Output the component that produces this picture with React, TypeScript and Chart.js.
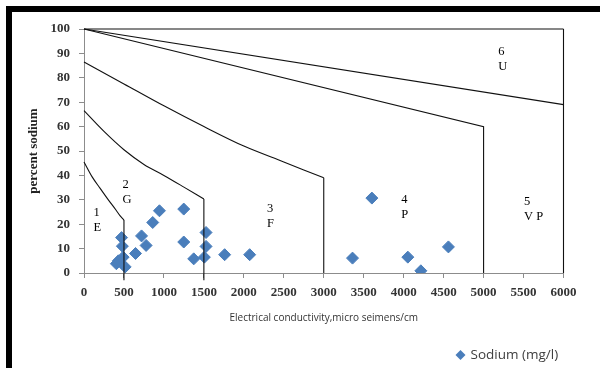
import React, { useEffect, useRef } from 'react';
import { Chart, registerables } from 'chart.js';

Chart.register(...registerables);

// Scatter samples: electrical conductivity (µS/cm) and percent sodium
const sodiumEC = [470, 480, 490, 430, 405, 515, 645, 720, 777, 860, 944, 1248, 1248, 1373, 1506, 1527, 1527, 1760, 2073, 3360, 3602, 4052, 4215, 4560];
const sodiumPct = [14.5, 11, 6.5, 5, 3.8, 2.5, 8, 15.2, 11.3, 20.7, 25.5, 26.2, 12.7, 5.8, 6.5, 16.6, 10.9, 7.5, 7.5, 6.1, 30.7, 6.5, 0.9, 10.7];

// Wilcox boundary lines
const frameTopEC = [0, 6000];
const frameTopPct = [100, 100];
const frameRightEC = [6000, 6000];
const frameRightPct = [100, 0];

const bound6EC = [0, 6000];
const bound6Pct = [100, 69];

const bound5EC = [0, 5000, 5000];
const bound5Pct = [100, 60, 0];

const bound4EC = [0, 500, 1000, 1500, 2000, 2500, 3000];
const bound4Pct = [86.5, 77.5, 68.5, 60, 52, 45.5, 39];
const drop4EC = [3000, 3000];
const drop4Pct = [39, 0];

const bound3EC = [0, 250, 500, 750, 1000, 1250, 1500];
const bound3Pct = [66.5, 58, 50.5, 44.5, 40, 35.2, 30.3];
const drop3EC = [1500, 1500];
const drop3Pct = [30.3, -3];

const bound2EC = [0, 100, 200, 300, 400, 450, 500];
const bound2Pct = [45.5, 39.5, 34.8, 30.2, 25.8, 23.5, 21.7];
const drop2EC = [500, 500];
const drop2Pct = [21.7, -3];

// Zone labels
const zoneNumbers = ['1', '2', '3', '4', '5', '6'];
const zoneCodes = ['E', 'G', 'F', 'P', 'V P', 'U'];
const zoneLabelEC = [119, 481, 2290, 3969, 5506, 5185];
const zoneLabelPct = [24.7, 36.1, 26.3, 30, 29.3, 90.8];

const xTitle = 'Electrical conductivity,micro seimens/cm';
const yTitle = 'percent sodium';
const seriesLabel = 'Sodium (mg/l)';

const toPoints = (xs: number[], ys: number[]) => xs.map((x, i) => ({ x, y: ys[i] }));

const lineDs = (xs: number[], ys: number[], curved = false) => ({
  type: 'scatter' as const,
  data: toPoints(xs, ys),
  showLine: true,
  borderColor: '#111',
  backgroundColor: '#111',
  borderWidth: 1.1,
  pointRadius: 0,
  pointHoverRadius: 0,
  tension: curved ? 0.4 : 0,
  cubicInterpolationMode: curved ? ('monotone' as const) : ('default' as const),
  clip: false as const,
  label: '',
});

const BLUE = '#4A7EBB';

const annotationsPlugin = {
  id: 'zoneAnnotations',
  afterDatasetsDraw(chart: any) {
    const { ctx, scales, chartArea } = chart;
    const x = scales.x;
    const y = scales.y;
    ctx.save();
    ctx.font = '12.5px "Liberation Serif", serif';
    ctx.fillStyle = '#000';
    ctx.textAlign = 'left';
    ctx.textBaseline = 'middle';
    zoneNumbers.forEach((n, i) => {
      const px = x.getPixelForValue(zoneLabelEC[i]);
      const py = y.getPixelForValue(zoneLabelPct[i]);
      ctx.fillText(n, px, py);
      ctx.fillText(zoneCodes[i], px, py + 15);
    });
    // legend
    const lx = chartArea.right - 103;
    const ly = chartArea.bottom + 82;
    const r = 5;
    ctx.fillStyle = BLUE;
    ctx.beginPath();
    ctx.moveTo(lx, ly - r);
    ctx.lineTo(lx + r, ly);
    ctx.lineTo(lx, ly + r);
    ctx.lineTo(lx - r, ly);
    ctx.closePath();
    ctx.fill();
    ctx.fillStyle = '#404040';
    ctx.font = '13.5px "Open Sans", sans-serif';
    ctx.textAlign = 'left';
    ctx.textBaseline = 'middle';
    ctx.fillText(seriesLabel, lx + 10, ly);
    ctx.restore();
  },
};

export default function App() {
  const canvasRef = useRef<HTMLCanvasElement | null>(null);

  useEffect(() => {
    document.body.style.margin = '0';
    const canvas = canvasRef.current;
    if (!canvas) return;
    const tickFont = { family: '"Liberation Serif", serif', weight: 'bold' as const, size: 13 };
    const chart = new Chart(canvas, {
      type: 'scatter',
      data: {
        datasets: [
          lineDs(frameTopEC, frameTopPct),
          lineDs(frameRightEC, frameRightPct),
          lineDs(bound6EC, bound6Pct),
          lineDs(bound5EC, bound5Pct),
          lineDs(bound4EC, bound4Pct, true),
          lineDs(drop4EC, drop4Pct),
          lineDs(bound3EC, bound3Pct, true),
          lineDs(drop3EC, drop3Pct),
          lineDs(bound2EC, bound2Pct, true),
          lineDs(drop2EC, drop2Pct),
          {
            type: 'scatter',
            label: seriesLabel,
            data: toPoints(sodiumEC, sodiumPct),
            pointStyle: 'rectRot',
            pointRadius: 6,
            pointBackgroundColor: BLUE,
            pointBorderColor: BLUE,
            pointBorderWidth: 1,
            showLine: false,
          } as any,
        ],
      },
      options: {
        animation: false,
        responsive: false,
        maintainAspectRatio: false,
        events: [],
        layout: { padding: { top: 29, right: 36.5, left: 0, bottom: 0 } },
        plugins: {
          legend: { display: false },
          tooltip: { enabled: false },
        },
        scales: {
          x: {
            type: 'linear',
            min: 0,
            max: 6000,
            ticks: {
              stepSize: 500,
              autoSkip: false,
              maxRotation: 0,
              color: '#333',
              font: tickFont,
              padding: 7,
              callback: (v: any) => String(v),
            },
            grid: { drawOnChartArea: false, drawTicks: true, tickLength: 5, color: '#8c8c8c' },
            border: { display: true, color: '#8c8c8c' },
            title: {
              display: true,
              text: xTitle,
              color: '#333',
              font: { family: '"Open Sans", sans-serif', size: 10 },
              padding: { top: 0, bottom: 44 },
            },
            afterFit(scale: any) {
              scale.height = 95;
            },
          },
          y: {
            type: 'linear',
            min: 0,
            max: 100,
            ticks: {
              stepSize: 10,
              color: '#333',
              font: tickFont,
              padding: 9,
              callback: (v: any) => String(v),
            },
            grid: { drawOnChartArea: false, drawTicks: true, tickLength: 5, color: '#8c8c8c' },
            border: { display: true, color: '#8c8c8c' },
            title: {
              display: true,
              text: yTitle,
              color: '#222',
              font: { family: '"Liberation Serif", serif', weight: 'bold', size: 13 },
              padding: { top: 26, bottom: 0 },
            },
            afterFit(scale: any) {
              scale.width = 84;
            },
          },
        },
      },
      plugins: [annotationsPlugin],
    });
    return () => chart.destroy();
  }, []);

  return (
    <div style={{ position: 'relative', width: 600, height: 368, background: '#fff', overflow: 'hidden' }}>
      <div
        style={{
          position: 'absolute',
          left: 6,
          top: 6,
          width: 594,
          height: 362,
          borderTop: '6px solid #000',
          borderLeft: '6px solid #000',
          boxSizing: 'border-box',
        }}
      />
      <canvas
        ref={canvasRef}
        width={600}
        height={368}
        style={{ position: 'absolute', left: 0, top: 0, width: 600, height: 368 }}
      />
    </div>
  );
}
